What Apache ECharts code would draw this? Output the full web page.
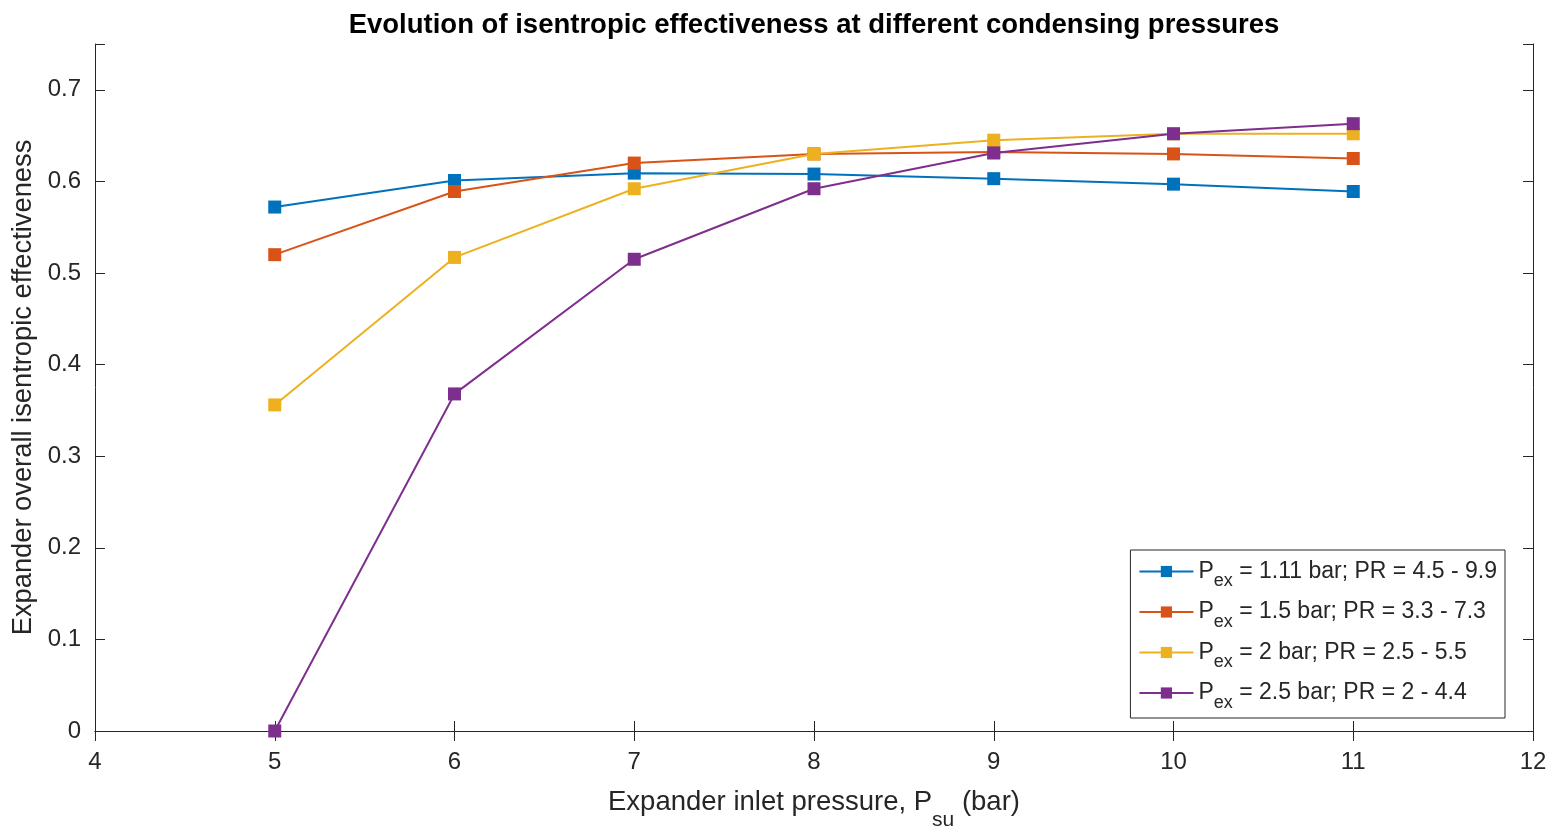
<!DOCTYPE html>
<html>
<head>
<meta charset="utf-8">
<script src="https://cdn.jsdelivr.net/npm/echarts@6/dist/echarts.min.js"></script>
<style>
  html, body { margin: 0; padding: 0; background: #fff; overflow: hidden; }
  #chart { width: 1555px; height: 836px; }
</style>
</head>
<body>
<div id="chart"></div>
<script>
// Expander inlet pressure (bar)
const inletPressure = [5, 6, 7, 8, 9, 10, 11];

// Overall isentropic effectiveness for each exhaust pressure
const pex111 = [0.572, 0.601, 0.609, 0.608, 0.603, 0.597, 0.589];
const pex15  = [0.520, 0.589, 0.620, 0.630, 0.632, 0.630, 0.625];
const pex2   = [0.356, 0.517, 0.592, 0.630, 0.645, 0.652, 0.652];
const pex25  = [0.000, 0.368, 0.515, 0.592, 0.631, 0.652, 0.663];

// Legend entries; the leading "Pex" is drawn as P with subscript "ex"
const seriesNames = [
  'Pex = 1.11 bar; PR = 4.5 - 9.9',
  'Pex = 1.5 bar; PR = 3.3 - 7.3',
  'Pex = 2 bar; PR = 2.5 - 5.5',
  'Pex = 2.5 bar; PR = 2 - 4.4'
];
const seriesValues = [pex111, pex15, pex2, pex25];
const seriesColors = ['#0072BD', '#D95319', '#EDB120', '#7E2F8E'];

const FONT = 'Liberation Sans, Arial, Helvetica, sans-serif';
const TXT = '#262626';

function pairs(ys) {
  return inletPressure.map((x, i) => [x, ys[i]]);
}

const chart = echarts.init(document.getElementById('chart'));

const series = seriesNames.map((name, i) => ({
  name: name,
  type: 'line',
  data: pairs(seriesValues[i]),
  symbol: 'rect',
  symbolSize: 13,
  showSymbol: true,
  color: seriesColors[i],
  lineStyle: { width: 2, color: seriesColors[i] },
  itemStyle: { color: seriesColors[i] },
  emphasis: { disabled: true },
  animation: false,
  z: 3 + i
}));

// Boxed axes with inward ticks on all four sides
const axisCommon = {
  axisLine: { show: true, lineStyle: { color: TXT, width: 1 } },
  axisTick: { show: true, inside: true, length: 10, lineStyle: { color: TXT } },
  splitLine: { show: false }
};

chart.setOption({
  backgroundColor: '#ffffff',
  animation: false,
  textStyle: { fontFamily: FONT },
  title: {
    text: 'Evolution of isentropic effectiveness at different condensing pressures',
    left: 809,
    textAlign: 'center',
    top: 6,
    textStyle: { fontFamily: FONT, fontSize: 27.5, fontWeight: 'bold', color: '#000' }
  },
  grid: { left: 95, right: 22, top: 44, bottom: 93, containLabel: false },
  legend: {
    orient: 'vertical',
    right: 50,
    top: 550,
    itemWidth: 54,
    itemHeight: 14,
    itemGap: 10,
    padding: [10, 8, 6, 8],
    backgroundColor: '#fff',
    borderColor: TXT,
    borderWidth: 1,
    data: seriesNames,
    formatter: function (name) {
      const rest = name.replace(/^Pex/, '');
      return '{p|P}{sub|ex}{t|' + rest + '}';
    },
    textStyle: {
      fontFamily: FONT,
      color: TXT,
      rich: {
        p: { fontSize: 23, color: TXT, fontFamily: FONT },
        sub: { fontSize: 18, color: TXT, fontFamily: FONT, padding: [20, 0, 0, 0] },
        t: { fontSize: 23, color: TXT, fontFamily: FONT }
      }
    }
  },
  xAxis: [
    Object.assign({
      type: 'value',
      min: 4, max: 12, interval: 1,
      position: 'bottom',
      name: '{a|Expander inlet pressure, P}{s|su}{a| (bar)}',
      nameLocation: 'middle',
      nameGap: 43,
      nameTextStyle: {
        rich: {
          a: { fontSize: 27.5, color: TXT, fontFamily: FONT },
          s: { fontSize: 21, color: TXT, fontFamily: FONT, padding: [36, 0, 0, 0] }
        }
      },
      axisLabel: { fontSize: 24, color: TXT, fontFamily: FONT, margin: 19 }
    }, axisCommon),
    Object.assign({
      type: 'value',
      min: 4, max: 12, interval: 1,
      position: 'top',
      axisLabel: { show: false }
    }, axisCommon)
  ],
  yAxis: [
    Object.assign({
      type: 'value',
      min: 0, max: 0.75, interval: 0.1,
      position: 'left',
      name: 'Expander overall isentropic effectiveness',
      nameLocation: 'middle',
      nameGap: 52,
      nameTextStyle: { fontSize: 27.3, color: TXT, fontFamily: FONT },
      axisLabel: {
        fontSize: 24, color: TXT, fontFamily: FONT, margin: 14,
        formatter: function (v) { return v > 0.72 ? '' : (Math.round(v * 10) / 10).toString(); }
      }
    }, axisCommon),
    Object.assign({
      type: 'value',
      min: 0, max: 0.75, interval: 0.1,
      position: 'right',
      axisLabel: { show: false }
    }, axisCommon)
  ],
  series: series
});
</script>
</body>
</html>
